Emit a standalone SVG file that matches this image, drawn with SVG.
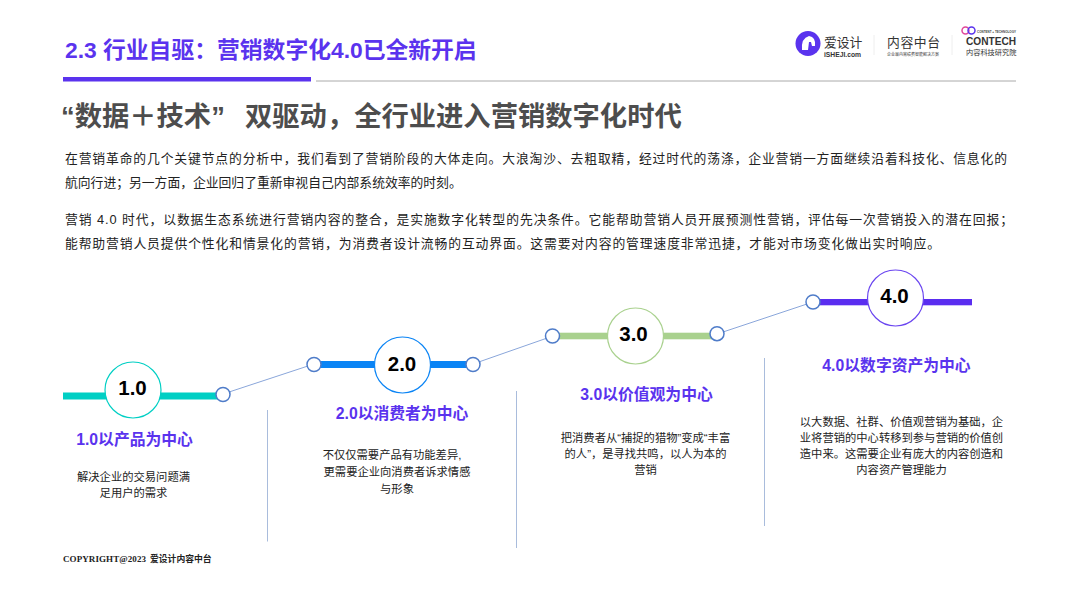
<svg xmlns="http://www.w3.org/2000/svg" width="1080" height="607" viewBox="0 0 1080 607">
<style>
text{font-family:"Liberation Sans","Noto Sans CJK SC",sans-serif}
.b{font-size:12.800px;fill:#222}
.h{font-size:15.800px;font-weight:700;fill:#5a33ee;text-anchor:middle}
.d{font-size:11.300px;fill:#222;text-anchor:middle}
.n{font-size:20.500px;font-weight:700;fill:#000;text-anchor:middle}
.dot{fill:#fff;stroke:#4f7cc9;stroke-width:1.5}
.big{fill:#fff;stroke-width:1.2}
.sep{stroke:#a9bcdc;stroke-width:1;fill:none}
.lnk{stroke:#8aa6da;stroke-width:1;fill:none}
</style>
<rect width="1080" height="607" fill="#fff"/>
<g id="header">
<text x="65" y="58" font-size="22.800" font-weight="700" fill="#5a33ee">2.3 行业自驱：营销数字化4.0已全新开启</text>
<rect x="63" y="77" width="248" height="4.500" fill="#5a33ee"/>
<line x1="316" y1="81" x2="1016" y2="81" stroke="#aaa" stroke-width="1"/>
</g>
<g id="logos">
<circle cx="808" cy="43.500" r="12.500" fill="#5a33ee"/>
<path d="M802 50 Q801 38 809 36 Q816 37 815 46 L812 46 L811 42 L809 42 L808 50 Z" fill="#fff"/>
<text x="824" y="47" font-size="12.800" fill="#333">爱设计</text>
<text x="824" y="56.500" font-size="8" font-weight="700" fill="#333" textLength="37" lengthAdjust="spacingAndGlyphs">iSHEJI.com</text>
<line x1="874" y1="35" x2="874" y2="55" stroke="#eee"/>
<text x="887" y="47" font-size="12.800" letter-spacing="0.600" fill="#333">内容中台</text>
<text x="887" y="55.500" font-size="4" fill="#444" textLength="52">企业最内需绩费智能解决方案</text>
<line x1="952" y1="35" x2="952" y2="55" stroke="#eee"/>
<circle cx="965.500" cy="30.500" r="3.500" fill="none" stroke="#e0489a" stroke-width="1.500"/>
<circle cx="971.500" cy="30.500" r="3.500" fill="none" stroke="#5a33ee" stroke-width="1.500"/>
<text x="977" y="33" font-size="3.500" font-weight="700" fill="#444" textLength="39" lengthAdjust="spacingAndGlyphs">CONTENT + TECHNOLOGY</text>
<text x="966" y="45" font-size="11" font-weight="700" fill="#333" textLength="50" lengthAdjust="spacingAndGlyphs">CONTECH</text>
<text x="966" y="54.500" font-size="7.200" fill="#333">内容科技研究院</text>
</g>
<g id="intro">
<text x="61" y="126" font-size="27.300" font-weight="700" fill="#4d4d4d">“数据＋技术”</text>
<text x="245" y="126" font-size="27.300" font-weight="700" fill="#4d4d4d">双驱动，全行业进入营销数字化时代</text>
<text class="b" x="65" y="163" textLength="942">在营销革命的几个关键节点的分析中，我们看到了营销阶段的大体走向。大浪淘沙、去粗取精，经过时代的荡涤，企业营销一方面继续沿着科技化、信息化的</text>
<text class="b" x="65" y="187">航向行进；另一方面，企业回归了重新审视自己内部系统效率的时刻。</text>
<text class="b" x="65" y="224" textLength="948">营销 4.0 时代，以数据生态系统进行营销内容的整合，是实施数字化转型的先决条件。它能帮助营销人员开展预测性营销，评估每一次营销投入的潜在回报；</text>
<text class="b" x="65" y="248" textLength="875">能帮助营销人员提供个性化和情景化的营销，为消费者设计流畅的互动界面。这需要对内容的管理速度非常迅捷，才能对市场变化做出实时响应。</text>
</g>
<g id="connectors">
<line class="lnk" x1="223" y1="394" x2="314" y2="364"/>
<line class="lnk" x1="473" y1="364" x2="553" y2="336"/>
<line class="lnk" x1="717" y1="334" x2="813" y2="302"/>
<line class="sep" x1="267.500" y1="410" x2="267.500" y2="541.500"/>
<line class="sep" x1="516.500" y1="391" x2="516.500" y2="548"/>
<line class="sep" x1="764.500" y1="358" x2="764.500" y2="526"/>
</g>
<g id="node-1">
<rect x="63" y="392.500" width="160" height="7" fill="#00cfc4"/>
<circle class="dot" cx="223" cy="394.500" r="7"/>
<circle class="big" cx="133" cy="390" r="28" stroke="#00cfc4"/>
<text class="n" x="132.500" y="395">1.0</text>
<text class="h" x="134.500" y="445">1.0以产品为中心</text>
<text class="d" x="133.500" y="481">解决企业的交易问题满</text>
<text class="d" x="133.500" y="497">足用户的需求</text>
</g>
<g id="node-2">
<rect x="314" y="361" width="159" height="7" fill="#0a84f5"/>
<circle class="dot" cx="314" cy="364.500" r="7"/>
<circle class="dot" cx="473" cy="364.500" r="7"/>
<circle class="big" cx="402.500" cy="365" r="28" stroke="#0a84f5"/>
<text class="n" x="402" y="370.500">2.0</text>
<text class="h" x="402" y="419">2.0以消费者为中心</text>
<text class="d" x="392" y="459">不仅仅需要产品有功能差异,</text>
<text class="d" x="397" y="476">更需要企业向消费者诉求情感</text>
<text class="d" x="397" y="493">与形象</text>
</g>
<g id="node-3">
<rect x="552" y="332.700" width="165" height="6.600" fill="#a9d18e"/>
<circle class="dot" cx="552.500" cy="336" r="7"/>
<circle class="dot" cx="717" cy="333.700" r="7"/>
<circle class="big" cx="635.500" cy="336" r="28" stroke="#a9d18e"/>
<text class="n" x="633.500" y="341">3.0</text>
<text class="h" x="646.500" y="400">3.0以价值观为中心</text>
<text class="d" x="645.500" y="442">把消费者从“捕捉的猎物”变成“丰富</text>
<text class="d" x="645.500" y="458">的人”，是寻找共鸣，以人为本的</text>
<text class="d" x="645.500" y="474">营销</text>
</g>
<g id="node-4">
<rect x="813" y="299" width="159" height="6.300" fill="#5a2df0"/>
<circle class="dot" cx="813" cy="302" r="7"/>
<circle class="big" cx="895.500" cy="298" r="28" stroke="#6a45f0"/>
<text class="n" x="894.500" y="303.300">4.0</text>
<text class="h" x="896.500" y="371">4.0以数字资产为中心</text>
<text class="d" x="901.500" y="426">以大数据、社群、价值观营销为基础，企</text>
<text class="d" x="901.500" y="442">业将营销的中心转移到参与营销的价值创</text>
<text class="d" x="901.500" y="458">造中来。这需要企业有庞大的内容创造和</text>
<text class="d" x="901.500" y="474">内容资产管理能力</text>
</g>
<g id="footer">
<text x="63" y="562" font-size="9" font-weight="700" fill="#222" textLength="83" style="font-family:'Liberation Serif','Noto Sans CJK SC',serif">COPYRIGHT@2023</text>
<text x="150" y="562" font-size="8.800" font-weight="700" fill="#222">爱设计内容中台</text>
</g>
</svg>
